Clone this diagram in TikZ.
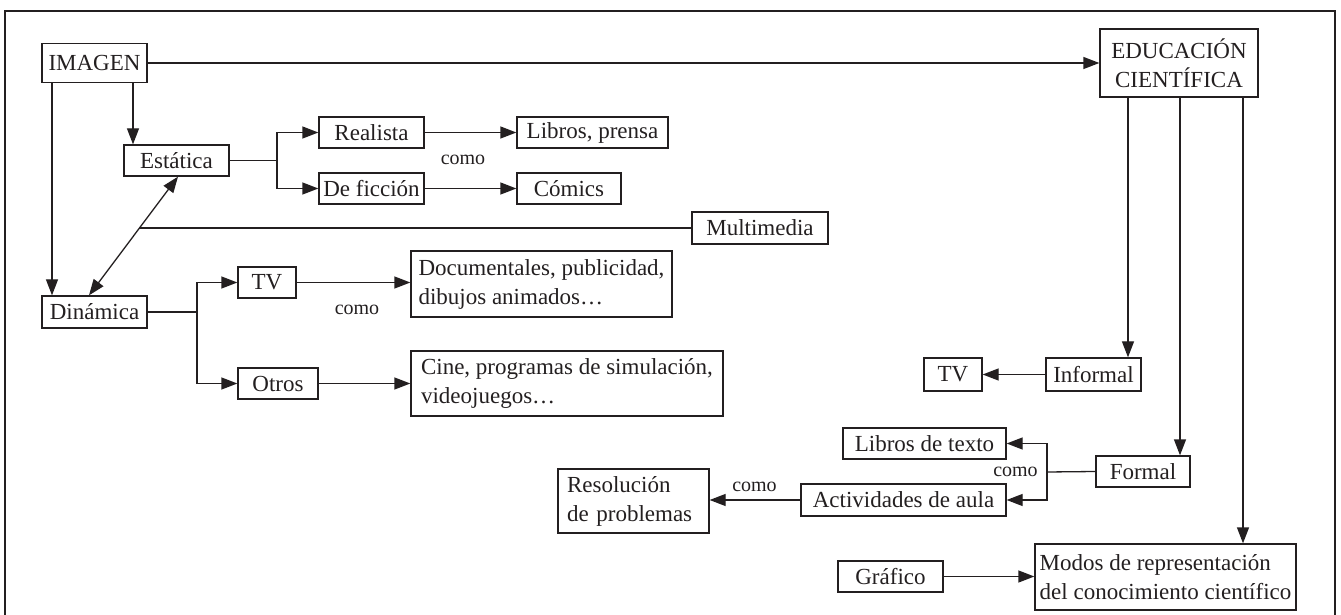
\documentclass[tikz,border=0pt]{standalone}
\usepackage{fontspec}
\setmainfont{Liberation Serif}
\usetikzlibrary{arrows.meta,calc}
\definecolor{ink}{HTML}{231F20}
\begin{document}
\begin{tikzpicture}[x=0.5pt,y=-0.5pt,
  box/.style={draw=ink,line width=0.65pt,inner sep=0pt,text=ink,font=\fontsize{11.5}{14.5}\selectfont},
  mbox/.style={box,align=left},
  lbl/.style={inner sep=0pt,text=ink,font=\fontsize{10}{12}\selectfont},
  ln/.style={draw=ink,line width=0.65pt},
  arr/.style={ln,-{Triangle[length=8pt,width=6pt]}},
  darr/.style={ln,{Triangle[length=8pt,width=6pt]}-{Triangle[length=8pt,width=6pt]}}]
\useasboundingbox (0,0) rectangle (1341,615);
% frame
\draw[ink,line width=0.8pt] (5,616) -- (5,11) -- (1335,11) -- (1335,616);
% nodes
\node[box,minimum width=52.5pt,minimum height=19.5pt] (img) at (94.5,63) {IMAGEN};
\node[box,minimum width=52.5pt,minimum height=15.5pt] (est) at (176.5,160.5) {Estática};
\node[box,minimum width=52.5pt,minimum height=15.5pt] (rea) at (371.5,132.5) {Realista};
\node[box,minimum width=52.5pt,minimum height=15.5pt] (fic) at (371.5,188.5) {De ficción};
\node[box,minimum width=75.5pt,minimum height=15.5pt] (lib) at (592.5,132.5) {Libros, prensa};
\node[box,minimum width=52pt,minimum height=15.5pt] (com) at (569,188.5) {Cómics};
\node[box,minimum width=68pt,minimum height=16pt] (mul) at (760,228) {Multimedia};
\node[box,minimum width=52.5pt,minimum height=16pt] (din) at (94.5,312) {Dinámica};
\node[box,minimum width=29pt,minimum height=15.5pt] (tv) at (267,282.5) {TV};
\node[box,minimum width=40pt,minimum height=15.5pt] (otr) at (278,383.5) {Otros};
\node[mbox,minimum width=130.5pt,minimum height=33pt] (doc) at (541.5,284) {Documentales, publicidad,\\dibujos animados…};
\node[mbox,minimum width=156pt,minimum height=32.5pt] (cin) at (567,383.5) {Cine, programas de simulación,\\videojuegos…};
\node[box,align=center,minimum width=79pt,minimum height=34pt] (edu) at (1179,63) {EDUCACIÓN\\CIENTÍFICA};
\node[box,minimum width=47.5pt,minimum height=16.5pt] (inf) at (1093.5,374.5) {Informal};
\node[box,minimum width=29pt,minimum height=16.5pt] (tvb) at (953,374.5) {TV};
\node[box,minimum width=47pt,minimum height=15.5pt] (for) at (1143,471.5) {Formal};
\node[box,minimum width=81.5pt,minimum height=15.5pt] (ldt) at (924.5,443.5) {Libros de texto};
\node[box,minimum width=102.5pt,minimum height=16pt] (act) at (903.5,500) {Actividades de aula};
\node[mbox,text width=66.5pt,inner xsep=4.5pt,minimum height=32pt] (res) at (633.5,501) {Resolución\\de problemas};
\node[box,minimum width=52.5pt,minimum height=15.5pt] (gra) at (890.5,576.5) {Gráfico};
\node[mbox,minimum width=130.5pt,minimum height=33pt] (mod) at (1165.5,577) {Modos de representación\\del conocimiento científico};
% labels
\node[lbl] (c1) at (463,159.5) {como};
\node[lbl] (c2) at (357,310) {como};
\node[lbl] (c3) at (1015.5,471.7) {como};
\node[lbl] (c4) at (754.5,487) {como};
% helper coordinates
\coordinate (b1) at (277,160.5);
\coordinate (b2) at (197,312);
\coordinate (b3) at (1047,472);
\coordinate (i1) at (133,83);
\coordinate (i2) at (52,83);
\coordinate (e1) at (1128,97);
\coordinate (e2) at (1180,97);
\coordinate (e3) at (1243,97);
\coordinate (es) at ([xshift=0.75pt]est.south);
\coordinate (dn) at ([xshift=-2.75pt]din.north);
\coordinate (mm) at ($(es)!0.437!(dn)$);
% connectors
\draw[arr] (img.east) -- (img.east -| edu.west);
\draw[arr] (i1) -- (i1 |- est.north);
\draw[arr] (i2) -- (i2 |- din.north);
\draw[darr] (es) -- (dn);
\draw[ln] (mul.west -| mm) -- (mul.west);
\draw[ln] (est.east) -- (b1);
\draw[arr] (b1) |- (rea.west);
\draw[arr] (b1) |- (fic.west);
\draw[arr] (rea.east) -- (lib.west);
\draw[arr] (fic.east) -- (com.west);
\draw[ln] (din.east) -- (b2);
\draw[arr] (b2) |- (tv.west);
\draw[arr] (b2) |- (otr.west);
\draw[arr] (tv.east) -- (tv.east -| doc.west);
\draw[arr] (otr.east) -- (otr.east -| cin.west);
\draw[arr] (e1) -- (e1 |- inf.north);
\draw[arr] (inf.west) -- (tvb.east);
\draw[arr] (e2) -- (e2 |- for.north);
\draw[arr] (e3) -- (e3 |- mod.north);
\draw[ln] (for.west) -- (b3);
\draw[arr] (b3) |- (ldt.east);
\draw[arr] (b3) |- (act.east);
\draw[arr] (act.west) -- (act.west -| res.east);
\draw[arr] (gra.east) -- (gra.east -| mod.west);
\end{tikzpicture}
\end{document}
